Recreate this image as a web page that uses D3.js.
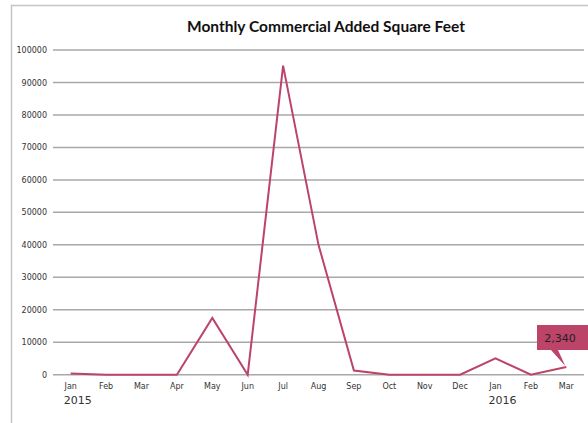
<!DOCTYPE html>
<html lang="en">
<head>
<meta charset="utf-8" />
<style>
    body { margin: 0; background: #fff; }
    .tick text { font-family: "DejaVu Sans", sans-serif; }
</style>
</head>
<body>
<script src="https://d3js.org/d3.v7.min.js"></script>
<script>
    // data
    var months = ["Jan", "Feb", "Mar", "Apr", "May", "Jun", "Jul", "Aug", "Sep", "Oct", "Nov", "Dec", "Jan", "Feb", "Mar"]
    var years = ["2015", "", "", "", "", "", "", "", "", "", "", "", "2016", "", ""]
    var sqft = [400, 0, 0, 0, 17500, 0, 95200, 40000, 1300, 0, 0, 0, 5000, 0, 2340]
    var yTicks = [0, 10000, 20000, 30000, 40000, 50000, 60000, 70000, 80000, 90000, 100000]

    var W = 588, H = 423
    var keys = months.map(function (m, i) { return i })

    var svg = d3.select("body").append("svg")
        .attr("width", W).attr("height", H)

    // chart frame (cut off at right / bottom)
    svg.append("path")
        .attr("d", "M11.5," + H + "V5.5H" + W)
        .attr("fill", "none").attr("stroke", "#c4c4c4").attr("stroke-width", 1.5)

    svg.append("text")
        .attr("x", 326).attr("y", 32)
        .attr("text-anchor", "middle")
        .style("font", "bold 15.5px Lato, 'Open Sans', sans-serif")
        .attr("fill", "#111")
        .text("Monthly Commercial Added Square Feet")

    var x = d3.scaleBand().domain(keys).range([53, 584])
    var y = d3.scaleLinear().domain([0, 100000]).range([374.7, 50])

    // gridlines
    svg.append("g").selectAll("line")
        .data(yTicks).enter().append("line")
        .attr("x1", 53).attr("x2", 584)
        .attr("y1", function (d) { return y(d) }).attr("y2", function (d) { return y(d) })
        .attr("stroke", "#a8a8a8").attr("stroke-width", 1.5)

    var yAxis = svg.append("g")
        .attr("transform", "translate(53,0)")
        .call(d3.axisLeft(y).tickValues(yTicks).tickSize(0).tickPadding(6).tickFormat(d3.format("d")))
    yAxis.select(".domain").remove()
    yAxis.selectAll("text").attr("fill", "#333").style("font-size", "8px")

    var xAxis = svg.append("g")
        .attr("transform", "translate(0," + 374.7 + ")")
        .call(d3.axisBottom(x).tickSize(0).tickPadding(9).tickFormat(function (d) { return months[d] }))
    xAxis.select(".domain").remove()
    xAxis.selectAll("text").attr("fill", "#333").style("font-size", "8px")

    // year labels under Jan
    svg.append("g").selectAll("text")
        .data(keys.filter(function (i) { return years[i] })).enter().append("text")
        .attr("x", function (i) { return x(i) + x.bandwidth() / 2 + 7 })
        .attr("y", 404)
        .attr("text-anchor", "middle")
        .style("font", "11px 'DejaVu Sans', sans-serif")
        .attr("fill", "#333")
        .text(function (i) { return years[i] })

    var line = d3.line()
        .x(function (d, i) { return x(i) + x.bandwidth() / 2 })
        .y(function (d) { return y(d) })

    svg.append("path")
        .datum(sqft)
        .attr("d", line)
        .attr("fill", "none")
        .attr("stroke", "#bc4469")
        .attr("stroke-width", 2)
        .attr("stroke-linejoin", "miter")

    // callout for last value
    var last = sqft.length - 1
    var px = x(last) + x.bandwidth() / 2, py = y(sqft[last])
    var bx = 537, by = 325, bh = 25
    svg.append("path")
        .attr("d", "M" + bx + "," + by + "H" + W + "V" + (by + bh) + "H558L" + (px - 1) + "," + (py - 1) + "L551," + (by + bh) + "H" + bx + "Z")
        .attr("fill", "#bc4469")
    svg.append("text")
        .attr("x", 560).attr("y", by + 17)
        .attr("text-anchor", "middle")
        .style("font", "11px 'DejaVu Sans', sans-serif")
        .attr("fill", "#222")
        .text(d3.format(",")(sqft[last]))
</script>
</body>
</html>
